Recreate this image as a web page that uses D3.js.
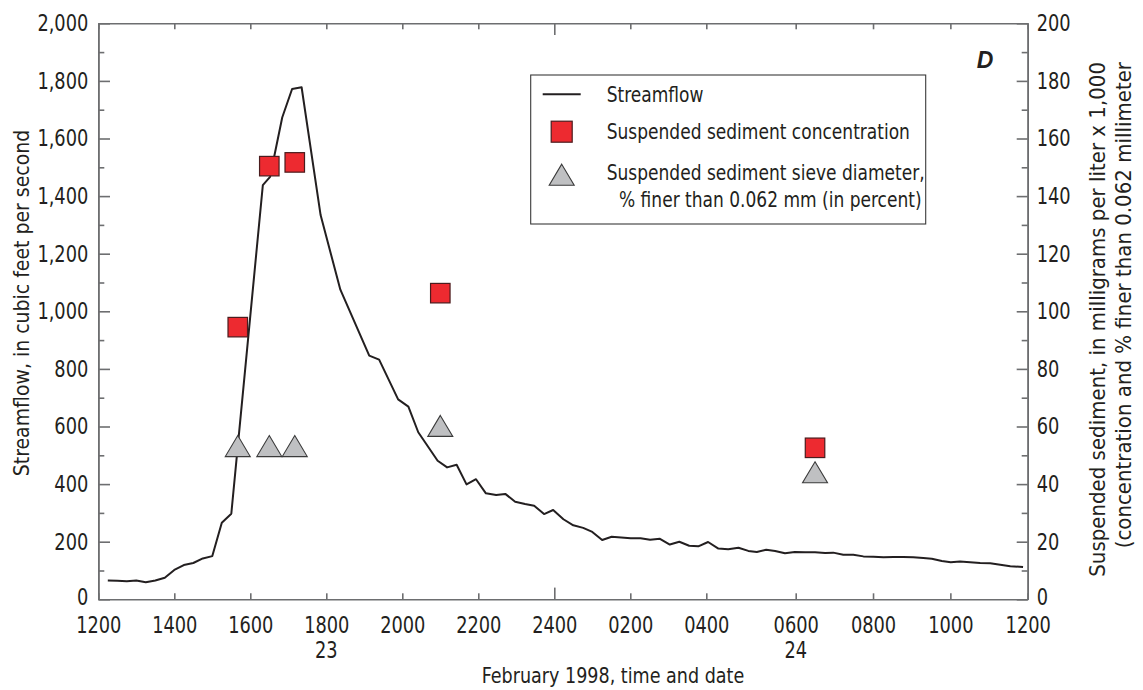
<!DOCTYPE html>
<html>
<head>
<meta charset="utf-8">
<script src="https://cdn.jsdelivr.net/npm/d3@7"></script>
<style>
  html, body { margin: 0; padding: 0; background: #fff; }
  svg text { font-family: "Liberation Sans Narrow", "Arial Narrow", "DejaVu Sans Condensed", sans-serif; fill: #231f20; }
</style>
</head>
<body>
<svg id="chart" width="1143" height="690"></svg>
<script>
// ---- Data (hours after 1200, February 22, 1998) ----
const flowHours = [0.25,0.5,0.75,1.0,1.25,1.5,1.75,2.0,2.25,2.5,2.75,3.0,3.25,3.5,
  4.33,4.52,4.84,5.1,5.35,5.85,6.37,7.13,7.39,7.89,8.16,8.42,8.93,9.18,9.43,9.69,9.94,
  10.2,10.47,10.71,10.97,11.23,11.47,11.73,11.97,12.24,12.5,12.76,13.0,13.26,13.51,13.76,
  14.01,14.27,14.52,14.78,15.04,15.29,15.55,15.79,16.04,16.27,16.49,16.72,16.94,17.13,
  17.34,17.54,17.76,17.98,18.24,18.5,18.76,18.97,19.23,19.49,19.75,20.01,20.27,20.53,
  20.78,21.04,21.3,21.52,21.78,22.01,22.25,22.51,22.77,23.03,23.29,23.55,23.88];
const streamflow = [65,64,63,65,59,65,75,102,119,126,142,150,266,297,
  1438,1467,1673,1772,1778,1334,1075,846,832,694,669,580,481,458,467,399,417,
  368,362,366,339,331,325,296,310,278,257,248,234,206,217,215,
  212,212,207,210,190,200,186,184,199,176,174,179,168,164,
  172,168,160,164,163,163,161,162,155,155,149,148,146,147,
  147,146,143,141,133,129,131,129,126,125,120,115,112];

const sampleHours = [3.67, 4.5, 5.17, 9.0, 18.5];
const concentration = [94.5, 150.4, 151.7, 106.3, 52.6];   // mg/L x 1,000
const finerPercent = [53.2, 53.2, 53.2, 60.2, 44.1];       // % finer than 0.062 mm

const xTickHours = [0,2,4,6,8,10,12,14,16,18,20,22,24];
const xTickLabels = ["1200","1400","1600","1800","2000","2200","2400","0200","0400","0600","0800","1000","1200"];
const dateHours = [6, 18];
const dateLabels = ["23", "24"];
const leftTicks = [0,200,400,600,800,1000,1200,1400,1600,1800,2000];
const rightTicks = [0,20,40,60,80,100,120,140,160,180,200];

// ---- Layout ----
const svg = d3.select("#chart");
const L = 98.3, R = 1027.7, T = 23.3, B = 599.3;
const axisColor = "#6d6e70";
const tickFont = "23px", tickScale = 0.86;

const x = d3.scaleLinear().domain([0, 16, 18, 24]).range([L, 706.3, 795.7, R]);
const yL = d3.scaleLinear().domain([0, 2000]).range([B, T]);
const yR = d3.scaleLinear().domain([0, 200]).range([B, T]);

// horizontally condense text around its anchor point
function condense(sel, sx) {
  sel.each(function () {
    const t = d3.select(this);
    const xv = +(t.attr("x") || 0);
    t.attr("x", xv / sx).attr("transform", `scale(${sx},1)`);
  });
}

function styleAxis(g) {
  g.select(".domain").attr("stroke", axisColor).attr("stroke-width", 1.6);
  g.selectAll(".tick line").attr("stroke", axisColor).attr("stroke-width", 1.6);
  g.selectAll(".tick text").attr("fill", "#231f20").style("font-size", tickFont)
    .call(condense, tickScale);
}

// minor ticks
const minorL = d3.range(100, 2000, 200);
const minorR = d3.range(10, 200, 20);
svg.append("g").attr("transform", `translate(${L},0)`)
  .call(d3.axisLeft(yL).tickValues(minorL).tickSizeInner(-6).tickSizeOuter(0).tickFormat(""))
  .call(styleAxis);
svg.append("g").attr("transform", `translate(${R},0)`)
  .call(d3.axisRight(yR).tickValues(minorR).tickSizeInner(-6).tickSizeOuter(0).tickFormat(""))
  .call(styleAxis);

// left axis
const ya = svg.append("g").attr("transform", `translate(${L},0)`)
  .call(d3.axisLeft(yL).tickValues(leftTicks).tickSizeInner(-11.7).tickSizeOuter(0)
    .tickPadding(10).tickFormat(d3.format(",")))
  .call(styleAxis);
ya.selectAll(".tick").filter(d => d === 0).select("text").attr("y", -2.5);

// right axis
const yb = svg.append("g").attr("transform", `translate(${R},0)`)
  .call(d3.axisRight(yR).tickValues(rightTicks).tickSizeInner(-11).tickSizeOuter(0).tickPadding(9))
  .call(styleAxis);
yb.selectAll(".tick").filter(d => d === 0).select("text").attr("y", -2.5);

// bottom axis
const xb = svg.append("g").attr("transform", `translate(0,${B})`)
  .call(d3.axisBottom(x).tickValues(xTickHours).tickSizeInner(-6).tickSizeOuter(0)
    .tickPadding(17).tickFormat((d, i) => xTickLabels[i]))
  .call(styleAxis);
xb.selectAll(".tick").filter(d => d === 12).select("line").attr("y2", -11.7);

// top axis
const xt = svg.append("g").attr("transform", `translate(0,${T})`)
  .call(d3.axisTop(x).tickValues(xTickHours).tickSizeInner(-6).tickSizeOuter(0).tickFormat(""))
  .call(styleAxis);
xt.selectAll(".tick").filter(d => d === 12).select("line").attr("y2", 11.7);

// date labels
svg.append("g").selectAll("text").data(dateHours).join("text")
  .attr("x", d => x(d)).attr("y", 658)
  .attr("text-anchor", "middle").style("font-size", tickFont)
  .text((d, i) => dateLabels[i])
  .call(condense, tickScale);

// axis titles
svg.append("text").attr("x", 613).attr("y", 683)
  .attr("text-anchor", "middle").style("font-size", "21px")
  .text("February 1998, time and date")
  .call(condense, 0.93);
svg.append("text").attr("transform", `translate(29,303) rotate(-90)`)
  .attr("text-anchor", "middle").style("font-size", "21px")
  .text("Streamflow, in cubic feet per second");
svg.append("text").attr("transform", `translate(1105,62) rotate(-90)`)
  .attr("text-anchor", "end").style("font-size", "22px")
  .text("Suspended sediment, in milligrams per liter x 1,000");
svg.append("text").attr("transform", `translate(1131,62) rotate(-90)`)
  .attr("text-anchor", "end").style("font-size", "22px")
  .text("(concentration and % finer than 0.062 millimeter");

// panel letter
svg.append("text").attr("x", 985).attr("y", 68).attr("text-anchor", "middle")
  .style("font-size", "23px").style("font-weight", "bold").style("font-style", "italic")
  .style("font-family", "'Liberation Sans', Arial, sans-serif")
  .text("D");

// streamflow line
const flowData = flowHours.map((h, i) => [h, streamflow[i]]);
svg.append("path").datum(flowData)
  .attr("fill", "none").attr("stroke", "#231f20").attr("stroke-width", 2)
  .attr("stroke-linejoin", "round")
  .attr("d", d3.line().x(d => x(d[0])).y(d => yL(d[1])));

// symbols
const sq = 19.5;
const triW = 25, triH = 21;
function triPath(cx, cy) {
  return `M${cx},${cy - triH / 2}L${cx + triW / 2},${cy + triH / 2}L${cx - triW / 2},${cy + triH / 2}Z`;
}
svg.append("g").selectAll("path").data(sampleHours).join("path")
  .attr("d", (d, i) => triPath(x(d), yR(finerPercent[i])))
  .attr("fill", "#bfc0c2").attr("stroke", "#3a3a3a").attr("stroke-width", 1.1);
svg.append("g").selectAll("rect").data(sampleHours).join("rect")
  .attr("x", d => x(d) - sq / 2)
  .attr("y", (d, i) => yR(concentration[i]) - sq / 2)
  .attr("width", sq).attr("height", sq)
  .attr("fill", "#ed2a30").attr("stroke", "#4a1c1e").attr("stroke-width", 1.2);

// legend
const lg = svg.append("g");
lg.append("rect").attr("x", 530.7).attr("y", 75).attr("width", 395).attr("height", 149)
  .attr("fill", "#fff").attr("stroke", "#3a3a3a").attr("stroke-width", 1.1);
lg.append("line").attr("x1", 542.7).attr("x2", 580.7).attr("y1", 94.3).attr("y2", 94.3)
  .attr("stroke", "#231f20").attr("stroke-width", 2);
lg.append("rect").attr("x", 561.7 - 10.5).attr("y", 131.7 - 10.5).attr("width", 21).attr("height", 21)
  .attr("fill", "#ed2a30").attr("stroke", "#4a1c1e").attr("stroke-width", 1.2);
lg.append("path").attr("d", triPath(561.7, 174.7))
  .attr("fill", "#bfc0c2").attr("stroke", "#3a3a3a").attr("stroke-width", 1.1);
const legendText = [
  ["Streamflow", 606.7, 102],
  ["Suspended sediment concentration", 606.7, 139.5],
  ["Suspended sediment sieve diameter,", 606.7, 180.5],
  ["% finer than 0.062 mm (in percent)", 619, 207]
];
lg.selectAll("text.lt").data(legendText).join("text").attr("class", "lt")
  .attr("x", d => d[1]).attr("y", d => d[2]).style("font-size", "20.5px")
  .text(d => d[0])
  .call(condense, 0.925);
</script>
</body>
</html>
